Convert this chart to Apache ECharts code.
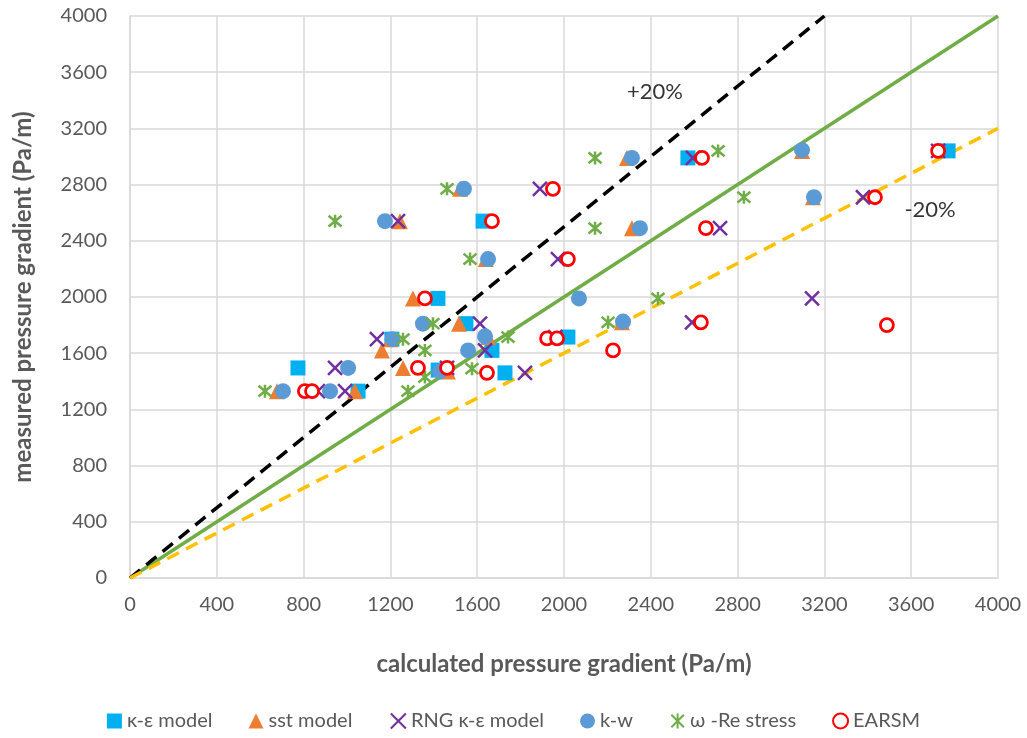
<!DOCTYPE html>
<html><head><meta charset="utf-8">
<script src="https://cdn.jsdelivr.net/npm/echarts@6/dist/echarts.min.js"></script>
<style>html,body{margin:0;padding:0;background:#fff}#c{width:1027px;height:738px}</style>
</head><body><div id="c"></div>
<script>
const seriesNames = ['κ-ε model','sst model','RNG κ-ε model','k-w','ω -Re stress','EARSM'];
const keModel = [[3770,3040],[2571,2990],[1627,2540],[1419,1990],[1548,1810],[1207,1700],[2018,1715],[1668,1620],[774,1495],[1420,1480],[1728,1460],[1051,1330]];
const sstModel = [[3097,3040],[2290,2990],[1521,2770],[3147,2710],[1244,2540],[2313,2490],[1640,2270],[1304,1990],[2267,1820],[1516,1810],[1200,1700],[1650,1715],[1161,1620],[1258,1495],[1465,1470],[677,1330],[1037,1330]];
const rngModel = [[3724,3040],[2594,2990],[1889,2770],[3378,2710],[1235,2540],[2719,2490],[1972,2270],[3143,1990],[2590,1820],[1613,1810],[1138,1700],[1960,1715],[1636,1620],[945,1495],[1461,1495],[1820,1460],[866,1330],[991,1330]];
const kwModel = [[3097,3045],[2313,2990],[1539,2770],[3152,2710],[1175,2540],[2350,2490],[1650,2270],[2069,1990],[2272,1825],[1350,1810],[1210,1700],[1636,1720],[1558,1620],[1005,1495],[1429,1470],[705,1330],[922,1330]];
const omegaRe = [[2710,3040],[2143,2990],[1461,2770],[2829,2710],[945,2540],[2143,2490],[1567,2270],[2433,1990],[2203,1820],[1396,1810],[1258,1700],[1742,1715],[1359,1620],[1576,1490],[1359,1430],[622,1330],[1281,1330]];
const earsm = [[3724,3040],[2636,2990],[1949,2770],[3433,2710],[1668,2540],[2654,2490],[2018,2270],[1359,1990],[2631,1820],[3488,1800],[1922,1705],[1968,1705],[2226,1620],[1327,1495],[1461,1495],[1645,1460],[806,1330],[839,1330]];
const plus20Line = [[0,0],[3200,4000]];
const equalLine = [[0,0],[4000,4000]];
const minus20Line = [[0,0],[4000,3200]];
const lineLabels = [{name:'+20%', value:[2419,3459]},{name:'-20%', value:[3687,2619]}];

const FONT = 'Lato, "Open Sans", sans-serif';
const GREY = '#595959';
const xPath = 'path://M0,0L10,10M10,0L0,10';
const starPath = 'path://M0,0L10,10M10,0L0,10M5,-1L5,11';

const chart = echarts.init(document.getElementById('c'));
chart.setOption({
  animation:false,
  backgroundColor:'#fff',
  grid:{left:130,right:29,top:16,bottom:160},
  xAxis:{type:'value',min:0,max:4000,interval:400,
    name:'calculated pressure gradient (Pa/m)',nameLocation:'middle',nameGap:74,
    nameTextStyle:{fontFamily:FONT,fontSize:24,fontWeight:'bold',color:GREY},
    axisLine:{show:true,lineStyle:{color:'#D9D9D9',width:1.5}},axisTick:{show:false},
    axisLabel:{fontFamily:FONT,fontSize:20,color:GREY,margin:17,formatter:v=>String(v)},
    splitLine:{lineStyle:{color:'#D9D9D9',width:1.5}}},
  yAxis:{type:'value',min:0,max:4000,interval:400,
    name:'measured pressure gradient (Pa/m)',nameLocation:'middle',nameGap:95,
    nameTextStyle:{fontFamily:FONT,fontSize:24,fontWeight:'bold',color:GREY},
    axisLine:{show:true,lineStyle:{color:'#D9D9D9',width:1.5}},axisTick:{show:false},
    axisLabel:{fontFamily:FONT,fontSize:20,color:GREY,margin:23,formatter:v=>String(v)},
    splitLine:{lineStyle:{color:'#D9D9D9',width:1.5}}},
  legend:{bottom:2,left:'center',itemGap:36,itemWidth:15,itemHeight:15,
    textStyle:{fontFamily:FONT,fontSize:20,color:GREY},
    data:seriesNames},
  series:[
    {type:'line',data:equalLine,symbol:'none',lineStyle:{color:'#70AD47',width:3.5},z:1},
    {type:'line',data:plus20Line,symbol:'none',lineStyle:{color:'#000',width:3.5,type:[13,8]},z:1},
    {type:'line',data:minus20Line,symbol:'none',lineStyle:{color:'#FFC000',width:3.5,type:[13,8]},z:1},
    {name:seriesNames[0],type:'scatter',data:keModel,symbol:'rect',symbolSize:15,itemStyle:{color:'#00B0F0',opacity:1},z:2},
    {name:seriesNames[1],type:'scatter',data:sstModel,symbol:'triangle',symbolSize:16,itemStyle:{color:'#ED7D31',opacity:1},z:3},
    {name:seriesNames[2],type:'scatter',data:rngModel,symbol:xPath,symbolSize:14,itemStyle:{color:'none',borderColor:'#7030A0',borderWidth:2.5,opacity:1},z:4},
    {name:seriesNames[3],type:'scatter',data:kwModel,symbol:'circle',symbolSize:16,itemStyle:{color:'#5B9BD5',opacity:1},z:5},
    {name:seriesNames[4],type:'scatter',data:omegaRe,symbol:starPath,symbolSize:13,itemStyle:{color:'none',borderColor:'#70AD47',borderWidth:2.5,opacity:1},z:6},
    {name:seriesNames[5],type:'scatter',data:earsm,symbol:'circle',symbolSize:13,itemStyle:{color:'#fff',borderColor:'#FF0000',borderWidth:2.8,opacity:1},z:7},
    {type:'scatter',data:lineLabels,symbolSize:0,silent:true,z:8,
      label:{show:true,position:'inside',formatter:p=>p.name,fontFamily:FONT,fontSize:22,color:'#000'}}
  ]
});
</script></body></html>
